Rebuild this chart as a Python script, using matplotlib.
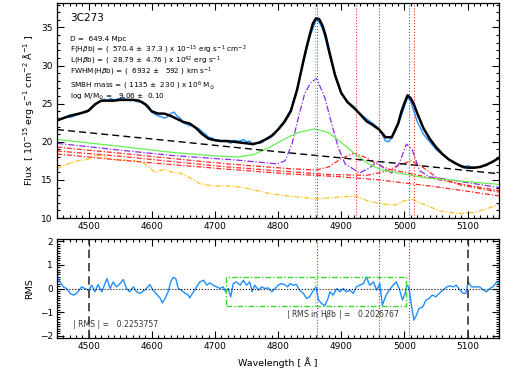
import matplotlib
matplotlib.use("Agg")
import matplotlib.pyplot as plt
from matplotlib.ticker import MultipleLocator

plt.rcParams["font.family"] = ["DejaVu Sans"]
plt.rcParams["mathtext.fontset"] = "dejavusans"

# ---- data ----
model_wave = [4450, 4460, 4470, 4480, 4490, 4500, 4510, 4520, 4530, 4540, 4550, 4560, 4570, 4580,
              4590, 4600, 4610, 4620, 4630, 4640, 4650, 4660, 4670, 4680, 4690, 4700, 4710, 4720,
              4730, 4740, 4750, 4760, 4770, 4780, 4790, 4800, 4810, 4820, 4830, 4840, 4845, 4850,
              4855, 4860, 4865, 4870, 4875, 4880, 4890, 4900, 4910, 4920, 4930, 4940, 4950, 4960,
              4970, 4980, 4990, 4995, 5000, 5005, 5010, 5015, 5020, 5030, 5040, 5050, 5060, 5070,
              5080, 5090, 5100, 5110, 5120, 5130, 5140, 5150]
model_flux = [22.8, 23.1, 23.4, 23.6, 23.8, 24.1, 24.9, 25.4, 25.4, 25.4, 25.5, 25.5, 25.5, 25.4,
              24.9, 24.0, 23.7, 23.7, 23.4, 23.0, 22.6, 22.4, 21.8, 21.0, 20.4, 20.2, 20.1, 20.1,
              20.0, 19.9, 19.8, 19.7, 19.9, 20.3, 20.8, 21.6, 22.6, 24.0, 26.8, 30.6, 32.4, 34.0,
              35.5, 36.2, 36.1, 35.3, 34.0, 32.2, 28.8, 26.4, 25.2, 24.5, 23.6, 22.7, 22.2, 21.6,
              20.6, 20.6, 22.4, 23.9, 25.1, 26.1, 25.7, 24.9, 23.8, 21.8, 20.4, 19.3, 18.4, 17.7,
              17.2, 16.8, 16.6, 16.6, 16.7, 17.0, 17.4, 17.9]

obs_wave = [4450, 4455, 4460, 4465, 4470, 4475, 4480, 4485, 4490, 4495, 4500, 4505, 4510, 4515,
            4520, 4525, 4530, 4535, 4540, 4545, 4550, 4555, 4560, 4565, 4570, 4575, 4580, 4585,
            4590, 4595, 4600, 4605, 4610, 4615, 4620, 4625, 4630, 4635, 4640, 4645, 4650, 4655,
            4660, 4665, 4670, 4675, 4680, 4685, 4690, 4695, 4700, 4705, 4710, 4715, 4720, 4725,
            4730, 4735, 4740, 4745, 4750, 4755, 4760, 4765, 4770, 4775, 4780, 4785, 4790, 4795,
            4800, 4810, 4820, 4830, 4840, 4850, 4860, 4865, 4870, 4875, 4880, 4890, 4900, 4910,
            4920, 4930, 4940, 4950, 4960, 4965, 4970, 4975, 4980, 4990, 5000, 5005, 5010, 5015,
            5020, 5030, 5040, 5050, 5060, 5070, 5080, 5090, 5095, 5100, 5105, 5110, 5120, 5130,
            5140, 5145, 5150]
obs_flux = [23.2, 23.0, 23.1, 23.3, 23.2, 23.3, 23.5, 23.6, 23.9, 23.8, 24.0, 24.4, 24.8, 25.2,
            25.3, 25.6, 25.4, 25.7, 25.5, 25.6, 25.7, 25.8, 25.5, 25.4, 25.5, 25.3, 25.2, 25.3,
            25.0, 24.7, 23.9, 23.6, 23.4, 23.3, 23.1, 23.3, 23.7, 23.9, 23.4, 23.1, 22.5, 22.3,
            22.1, 22.2, 21.9, 21.7, 21.3, 21.0, 20.6, 20.5, 20.3, 20.2, 20.1, 20.2, 20.0, 19.8,
            20.2, 20.1, 20.1, 20.3, 20.0, 20.1, 19.6, 19.8, 19.8, 19.9, 20.3, 20.4, 20.7, 21.0,
            21.7, 22.8, 24.2, 26.9, 30.4, 33.7, 36.0, 35.7, 34.9, 33.5, 31.8, 28.6, 26.3, 25.1,
            24.3, 23.7, 23.0, 22.4, 21.7, 20.9, 20.1, 20.0, 20.5, 22.2, 24.6, 25.8, 25.3, 24.0,
            22.7, 21.0, 20.0, 19.0, 18.3, 17.7, 17.3, 16.7, 16.5, 16.9, 16.7, 16.6, 16.7, 16.9,
            17.4, 17.7, 17.9]

cont_wave = [4450, 4633, 4811, 4985, 5150]
cont_flux = [21.6, 20.1, 18.6, 17.2, 15.8]

green_wave = [4450, 4550, 4633, 4692, 4735, 4761, 4787, 4811, 4831, 4858, 4880, 4900, 4922,
              4943, 4964, 4985, 5030, 5083, 5150]
green_flux = [20.3, 19.4, 18.6, 18.2, 18.0, 18.3, 19.3, 20.4, 21.2, 21.7, 21.2, 19.9, 18.4,
              17.1, 16.3, 16.0, 15.3, 14.9, 14.4]

purple_wave = [4450, 4550, 4633, 4735, 4798, 4811, 4822, 4831, 4842, 4852, 4861, 4874, 4885,
               4895, 4906, 4929, 4945, 4956, 4968, 4980, 4992, 5003, 5012, 5024, 5040, 5080, 5150]
purple_flux = [19.8, 18.9, 18.2, 17.6, 17.1, 17.5, 19.7, 22.8, 26.3, 27.8, 28.3, 25.8, 22.3,
               19.3, 17.1, 15.9, 16.6, 17.3, 16.5, 15.9, 17.2, 19.7, 19.0, 16.2, 15.4, 14.9, 14.0]

red1_wave = [4450, 4550, 4633, 4720, 4814, 4860, 4880, 4900, 4920, 4940, 4960, 4980, 5000,
             5050, 5100, 5150]
red1_flux = [19.3, 18.5, 17.8, 17.1, 16.5, 16.3, 16.7, 17.8, 18.5, 17.9, 16.9, 16.3, 16.0,
             15.1, 14.3, 13.6]
red2_wave = [4450, 4550, 4633, 4720, 4814, 4880, 4940, 4970, 4990, 5011, 5030, 5050, 5090,
             5150]
red2_flux = [18.8, 18.1, 17.4, 16.7, 16.1, 15.7, 15.6, 16.1, 16.9, 17.5, 16.6, 15.4, 14.3, 13.4]
red3_wave = [4450, 4550, 4633, 4720, 4814, 4900, 4960, 5000, 5050, 5100, 5150]
red3_flux = [18.4, 17.6, 17.0, 16.4, 15.8, 15.4, 15.0, 14.6, 14.1, 13.5, 12.9]

fe_wave = [4450, 4467, 4483, 4499, 4512, 4521, 4531, 4553, 4574, 4590, 4605, 4621, 4633, 4645,
           4660, 4676, 4697, 4724, 4745, 4766, 4787, 4814, 4861, 4890, 4922, 4943, 4969, 4985,
           4998, 5011, 5030, 5057, 5083, 5109, 5130, 5150]
fe_flux = [16.5, 17.1, 17.5, 17.7, 18.2, 18.3, 17.7, 17.6, 17.5, 17.1, 16.0, 16.4, 16.0, 15.9,
           15.3, 14.5, 14.2, 14.2, 14.0, 13.6, 13.2, 12.9, 12.5, 12.7, 12.9, 12.2, 11.8, 11.7,
           12.2, 12.5, 11.8, 10.9, 10.6, 10.7, 11.2, 11.8]

rms_wave = [4450, 4455, 4460, 4465, 4471, 4476, 4481, 4489, 4494, 4500, 4505, 4510, 4515, 4521,
            4526, 4529, 4534, 4539, 4544, 4550, 4555, 4560, 4565, 4571, 4576, 4581, 4589, 4597,
            4602, 4608, 4613, 4617, 4621, 4626, 4630, 4634, 4638, 4642, 4647, 4653, 4658, 4660,
            4666, 4671, 4676, 4682, 4687, 4692, 4697, 4703, 4708, 4713, 4717, 4721, 4725, 4729,
            4734, 4740, 4745, 4750, 4755, 4759, 4763, 4769, 4774, 4779, 4784, 4790, 4795, 4800,
            4805, 4810, 4815, 4819, 4824, 4829, 4834, 4840, 4845, 4850, 4856, 4860, 4864, 4869,
            4874, 4879, 4882, 4887, 4893, 4898, 4903, 4908, 4914, 4919, 4924, 4929, 4935, 4940,
            4945, 4951, 4956, 4961, 4965, 4971, 4976, 4982, 4987, 4992, 4997, 5001, 5004, 5007,
            5011, 5015, 5019, 5023, 5029, 5034, 5039, 5044, 5050, 5055, 5061, 5067, 5072, 5077,
            5082, 5088, 5093, 5097, 5101, 5106, 5114, 5119, 5125, 5130, 5135, 5140, 5146, 5150]
rms_val = [0.54, 0.28, 0.07, 0.00, -0.21, -0.28, -0.21, 0.07, 0.00, -0.07, 0.14, -0.14, 0.17,
           -0.14, 0.21, 0.42, 0.00, 0.28, 0.07, 0.21, 0.38, 0.00, -0.14, 0.07, -0.14, -0.21,
           -0.07, 0.17, -0.07, -0.25, -0.40, -0.61, -0.42, -0.14, 0.28, 0.47, 0.42, 0.00, -0.07,
           -0.21, -0.28, -0.40, -0.14, 0.07, 0.28, 0.35, 0.14, 0.24, 0.14, 0.07, 0.00, 0.07,
           -0.14, 0.00, -0.35, 0.21, 0.28, 0.14, 0.35, 0.14, 0.28, -0.14, 0.14, -0.07, 0.07,
           0.00, 0.03, -0.14, 0.00, 0.14, 0.21, 0.17, 0.07, 0.21, 0.14, 0.17, -0.07, -0.21,
           -0.42, -0.35, -0.07, 0.07, -0.49, -0.64, -0.73, -0.42, -0.14, -0.28, 0.00, -0.14,
           0.00, -0.14, -0.07, -0.21, 0.07, 0.14, 0.21, 0.49, 0.14, 0.28, -0.07, 0.21, -0.71,
           -0.28, -0.07, 0.14, 0.28, -0.03, -0.49, -0.21, 0.14, 0.07, -0.71, -1.34, -1.13,
           -0.85, -0.78, -0.49, -0.42, -0.28, -0.35, -0.21, -0.07, 0.07, 0.11, 0.07, 0.14,
           -0.07, -0.21, -0.21, 0.28, 0.07, 0.07, 0.07, -0.07, -0.14, 0.00, 0.07, 0.28, 0.21]

narrow_lines = [4861, 4959, 5007]   # purple dotted
broad_line = [4858]                # green dotted
red_lines = [4923, 5015]           # red dotted
rms_window = [4500, 5100]
hb_box_x = [4717, 5002]
hb_box_y = [-0.75, 0.5]

info_lines = [
    "D =  649.4 Mpc",
    r"F(H$\beta$b) = (  570.4 $\pm$  37.3 ) x 10$^{-15}$ erg s$^{-1}$ cm$^{-2}$",
    r"L(H$\beta$b) = (  28.79 $\pm$  4.76 ) x 10$^{42}$ erg s$^{-1}$",
    r"FWHM(H$\beta$b) = (  6932 $\pm$   592 ) km s$^{-1}$",
    r"SMBH mass = ( 1135 $\pm$  230 ) x 10$^{6}$ M$_{\odot}$",
    r"log M/M$_{\odot}$ =   9.06 $\pm$  0.10",
]
info_y = [33.55, 32.1, 30.65, 29.2, 27.4, 25.9]

# ---- figure ----
fig = plt.figure(figsize=(5.2, 3.68), dpi=100)
ax = fig.add_axes([0.1096, 0.4076, 0.8504, 0.584])
ax2 = fig.add_axes([0.1096, 0.0815, 0.8504, 0.269])

c_blue = "#1E8FFF"
c_green = "#66EE55"
c_purple = "#8A2BE2"
c_red = "#FF2A2A"
c_fe = "#FFC21A"
dashdot = (0, (4, 1.5, 1, 1.5))

ax.plot(fe_wave, fe_flux, color=c_fe, lw=0.9, ls=dashdot)
ax.plot(red3_wave, red3_flux, color=c_red, lw=0.9, ls=dashdot)
ax.plot(red2_wave, red2_flux, color=c_red, lw=0.9, ls=dashdot)
ax.plot(red1_wave, red1_flux, color=c_red, lw=0.9, ls=dashdot)
ax.plot(purple_wave, purple_flux, color=c_purple, lw=0.9, ls=(0, (5, 1.5, 1, 1.5)))
ax.plot(green_wave, green_flux, color=c_green, lw=0.9)
ax.plot(cont_wave, cont_flux, color="black", lw=1.0, ls=(0, (5, 3)))
for w in broad_line:
    ax.axvline(w, color=c_green, lw=0.8, ls=":")
for w in narrow_lines:
    ax.axvline(w, color=c_purple, lw=0.8, ls=":")
for w in red_lines:
    ax.axvline(w, color=c_red, lw=0.8, ls=":")
ax.plot(obs_wave, obs_flux, color=c_blue, lw=1.0)
ax.plot(model_wave, model_flux, color="black", lw=1.8)

ax.set_xlim(4450, 5150)
ax.set_ylim(10, 38.2)
ax.text(4471, 36.3, "3C273", fontsize=7.5, va="center")
for s, yv in zip(info_lines, info_y):
    ax.text(4471, yv, s, fontsize=5.2, va="center")
ax.set_ylabel(r"Flux  [ 10$^{-15}$ erg s$^{-1}$ cm$^{-2}$ Å$^{-1}$ ]", fontsize=6.8)

# ---- residual panel ----
ax2.plot(rms_wave, rms_val, color=c_blue, lw=1.0)
ax2.axhline(0, color="black", lw=0.8, ls=":")
for w in rms_window:
    ax2.axvline(w, color="#333333", lw=1.2, ls=(0, (5, 3)))
for w in narrow_lines:
    ax2.axvline(w, color=c_purple, lw=0.8, ls=":")
ax2.plot([broad_line[0], broad_line[0]], hb_box_y, color=c_green, lw=0.8, ls=":")
ax2.plot([hb_box_x[0], hb_box_x[1], hb_box_x[1], hb_box_x[0], hb_box_x[0]],
         [hb_box_y[0], hb_box_y[0], hb_box_y[1], hb_box_y[1], hb_box_y[0]],
         color="#33DD22", lw=1.0, ls=dashdot)
ax2.text(4475, -1.53, "| RMS | =   0.2253757", fontsize=5.6, va="center", color="#333333")
ax2.text(4812, -1.11, r"| RMS in H$\beta$b | =   0.2026767", fontsize=5.6, va="center",
         color="#333333")
ax2.set_xlim(4450, 5150)
ax2.set_ylim(-2.1, 2.1)
ax2.set_ylabel("RMS", fontsize=6.8)
ax2.set_xlabel("Wavelength [ Å ]", fontsize=6.8)

for a in (ax, ax2):
    a.xaxis.set_major_locator(MultipleLocator(100))
    a.xaxis.set_minor_locator(MultipleLocator(10))
    a.tick_params(which="both", direction="in", top=True, right=True, labelsize=6.5,
                  width=0.8, pad=3)
    a.tick_params(which="major", length=5)
    a.tick_params(which="minor", length=2.5)
    for sp in a.spines.values():
        sp.set_linewidth(0.9)
ax.yaxis.set_major_locator(MultipleLocator(5))
ax.yaxis.set_minor_locator(MultipleLocator(1))
ax2.yaxis.set_major_locator(MultipleLocator(1))
ax2.yaxis.set_minor_locator(MultipleLocator(0.1))

fig.savefig("out.png", dpi=100)
